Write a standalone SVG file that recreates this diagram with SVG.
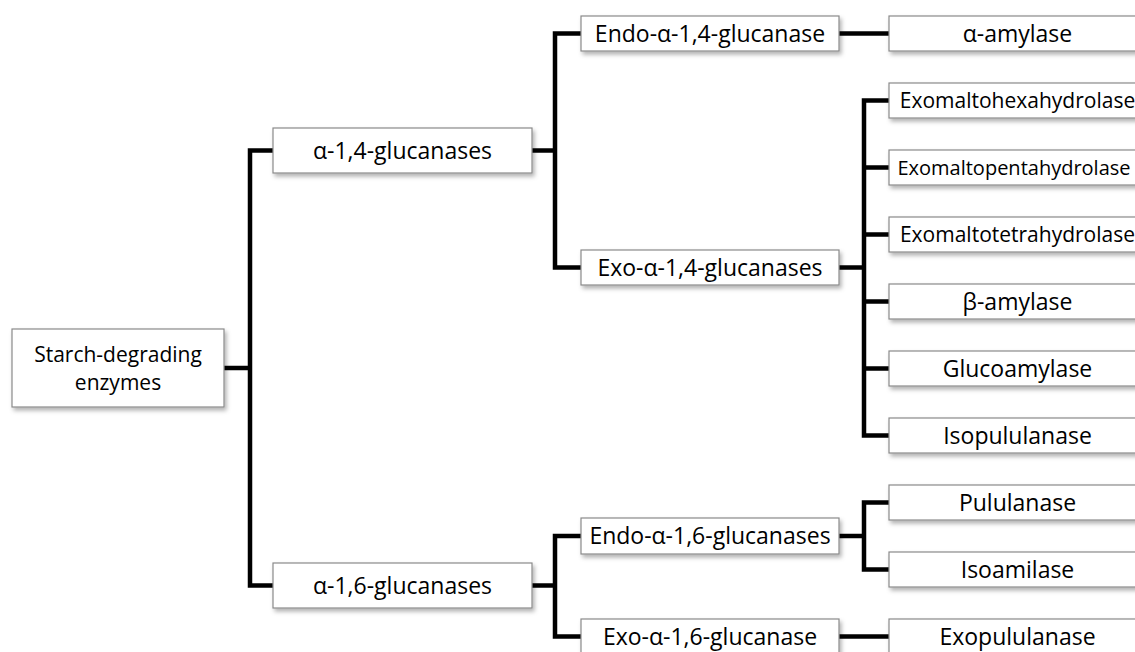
<svg xmlns="http://www.w3.org/2000/svg" width="1135" height="652" viewBox="0 0 1135 652">
<defs>
<filter id="sh" x="-10%" y="-20%" width="130%" height="160%">
<feDropShadow dx="2" dy="3" stdDeviation="2" flood-color="#000" flood-opacity="0.3"/>
</filter>
<style>
.box{fill:#fff;stroke:#8a8a8a;stroke-width:1.2;filter:url(#sh)}
.t{font-family:"Open Sans","Noto Sans","Liberation Sans",sans-serif;font-size:23px;fill:#000;text-anchor:middle}
.s{font-size:21px}
.xs{font-size:20px}
.c{fill:none;stroke:#000;stroke-width:4.5;stroke-linejoin:miter;stroke-linecap:butt}
</style>
</defs>
<rect width="1135" height="652" fill="#fff"/>
<g id="connectors">
<path class="c" d="M224 368H250"/>
<path class="c" d="M273 150.5H250V585.5H273"/>
<path class="c" d="M532 150.5H555"/>
<path class="c" d="M581 33.5H555V267.5H581"/>
<path class="c" d="M839 33.5H889"/>
<path class="c" d="M839 267.5H864"/>
<path class="c" d="M889 100.5H864V435.5H889"/>
<path class="c" d="M864 167.5H889M864 234.5H889M864 301.5H889M864 368.5H889"/>
<path class="c" d="M532 585.5H555"/>
<path class="c" d="M581 536H555V636.5H581"/>
<path class="c" d="M839 536H864"/>
<path class="c" d="M889 502.5H864V569.5H889"/>
<path class="c" d="M839 636.5H889"/>
</g>
<g id="root"><rect class="box" x="12" y="329" width="212" height="78"/><text class="t s" x="118" y="362">Starch-degrading</text><text class="t s" x="118" y="390">enzymes</text></g>
<g id="a14"><rect class="box" x="273" y="128" width="259" height="45"/><text class="t" x="402.5" y="158.5">α-1,4-glucanases</text></g>
<g id="a16"><rect class="box" x="273" y="563" width="259" height="45"/><text class="t" x="402.5" y="593.5">α-1,6-glucanases</text></g>
<g id="endo14"><rect class="box" x="581" y="16" width="258" height="35"/><text class="t" x="710" y="41.5">Endo-α-1,4-glucanase</text></g>
<g id="exo14"><rect class="box" x="581" y="250" width="258" height="35"/><text class="t" x="710" y="275.5">Exo-α-1,4-glucanases</text></g>
<g id="endo16"><rect class="box" x="581" y="518" width="258" height="36"/><text class="t" x="710" y="544">Endo-α-1,6-glucanases</text></g>
<g id="exo16"><rect class="box" x="581" y="619" width="258" height="35"/><text class="t" x="710" y="644.5">Exo-α-1,6-glucanase</text></g>
<g id="aamylase"><rect class="box" x="889" y="16" width="257" height="35"/><text class="t" x="1017.5" y="41.5">α-amylase</text></g>
<g id="hexa"><rect class="box" x="889" y="83" width="257" height="35"/><text class="t s" x="1017.5" y="108">Exomaltohexahydrolase</text></g>
<g id="penta"><rect class="box" x="889" y="150" width="257" height="35"/><text class="t xs" x="1014" y="175">Exomaltopentahydrolase</text></g>
<g id="tetra"><rect class="box" x="889" y="217" width="257" height="35"/><text class="t s" x="1017.5" y="242">Exomaltotetrahydrolase</text></g>
<g id="bamylase"><rect class="box" x="889" y="284" width="257" height="35"/><text class="t" x="1017.5" y="309.5">β-amylase</text></g>
<g id="gluco"><rect class="box" x="889" y="351" width="257" height="35"/><text class="t" x="1017.5" y="376.5">Glucoamylase</text></g>
<g id="isopul"><rect class="box" x="889" y="418" width="257" height="35"/><text class="t" x="1017.5" y="443.5">Isopululanase</text></g>
<g id="pul"><rect class="box" x="889" y="485" width="257" height="35"/><text class="t" x="1017.5" y="510.5">Pululanase</text></g>
<g id="isoam"><rect class="box" x="889" y="552" width="257" height="35"/><text class="t" x="1017.5" y="577.5">Isoamilase</text></g>
<g id="exopul"><rect class="box" x="889" y="619" width="257" height="35"/><text class="t" x="1017.5" y="644.5">Exopululanase</text></g>
</svg>
